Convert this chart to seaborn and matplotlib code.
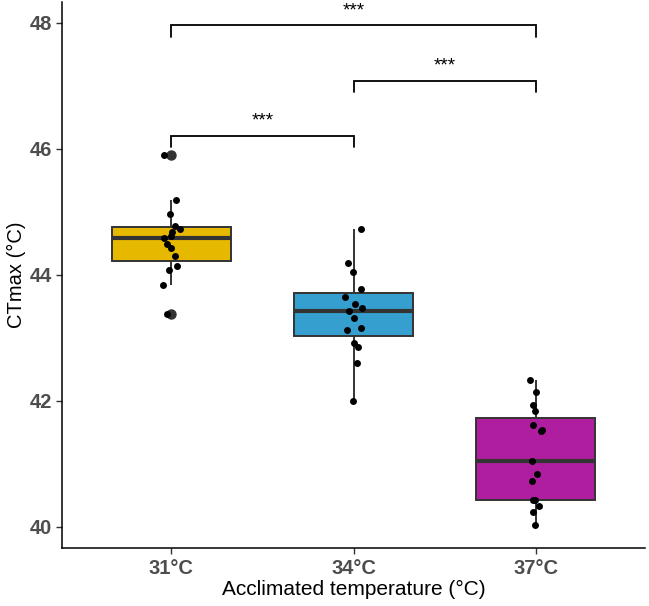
import numpy as np
import pandas as pd
import seaborn as sns
import matplotlib.pyplot as plt

# CTmax values, one list per acclimation group
groups = ['31°C', '34°C', '37°C']
ct_31 = [45.90, 45.19, 44.96, 44.77, 44.73, 44.67, 44.61, 44.58,
         44.48, 44.42, 44.30, 44.14, 44.08, 43.84, 43.37]
ct_34 = [44.72, 44.19, 44.04, 43.78, 43.65, 43.53, 43.47, 43.43,
         43.32, 43.16, 43.12, 42.92, 42.85, 42.59, 42.00]
ct_37 = [42.33, 42.13, 41.93, 41.83, 41.62, 41.53, 41.52, 41.04,
         40.84, 40.73, 40.43, 40.43, 40.33, 40.23, 40.03]
colors = ['#E7B800', '#35A0D0', '#B01EA0']

# significance brackets
pairs = [(0, 1), (1, 2), (0, 2)]
bracket_y = [46.2, 47.08, 47.96]
sig_labels = ['***', '***', '***']

df = pd.DataFrame({
    'temp': np.repeat(groups, [len(ct_31), len(ct_34), len(ct_37)]),
    'ctmax': ct_31 + ct_34 + ct_37,
})

sns.set_style('white')
plt.rcParams['font.family'] = ['Liberation Sans', 'DejaVu Sans']

fig = plt.figure(figsize=(6.49, 6.06), dpi=100)
ax = fig.add_axes([62 / 649, 58 / 606, 583 / 649, 546 / 606])

sns.boxplot(data=df, x='temp', y='ctmax', hue='temp', palette=colors,
            legend=False, width=0.65, saturation=1, linecolor='#333333',
            linewidth=1.4, showcaps=False, fliersize=6.5,
            flierprops=dict(marker='o', markerfacecolor='#333333',
                            markeredgecolor='#333333'),
            medianprops=dict(linewidth=3, color='#333333'), ax=ax)

np.random.seed(7)
sns.stripplot(data=df, x='temp', y='ctmax', color='black', size=5,
              jitter=0.05, ax=ax)

tip = 0.18
for (a, b), yb, lab in zip(pairs, bracket_y, sig_labels):
    ax.plot([a, a, b, b], [yb - tip, yb, yb, yb - tip], color='black',
            lw=1.3, solid_joinstyle='miter')
    ax.text((a + b) / 2, yb + 0.1, lab, ha='center', va='bottom',
            fontsize=13.5, color='black')

ax.set_xlim(-0.6, 2.6)
ax.set_ylim(39.66, 48.33)
ax.set_yticks([40, 42, 44, 46, 48])

for s in ['top', 'right']:
    ax.spines[s].set_visible(False)
for s in ['left', 'bottom']:
    ax.spines[s].set_color('black')
    ax.spines[s].set_linewidth(1.1)

ax.tick_params(axis='both', length=4, width=1, color='#333333',
               labelcolor='#4D4D4D', labelsize=14.5, pad=3, bottom=True, left=True)
ax.tick_params(axis='x', pad=4)
for lbl in ax.get_xticklabels() + ax.get_yticklabels():
    lbl.set_fontweight('bold')

ax.set_xlabel('Acclimated temperature (°C)', fontsize=15, color='black', labelpad=1)
ax.set_ylabel('CTmax (°C)', fontsize=14.5, color='black', labelpad=3)

fig.savefig('out.png', dpi=100)
